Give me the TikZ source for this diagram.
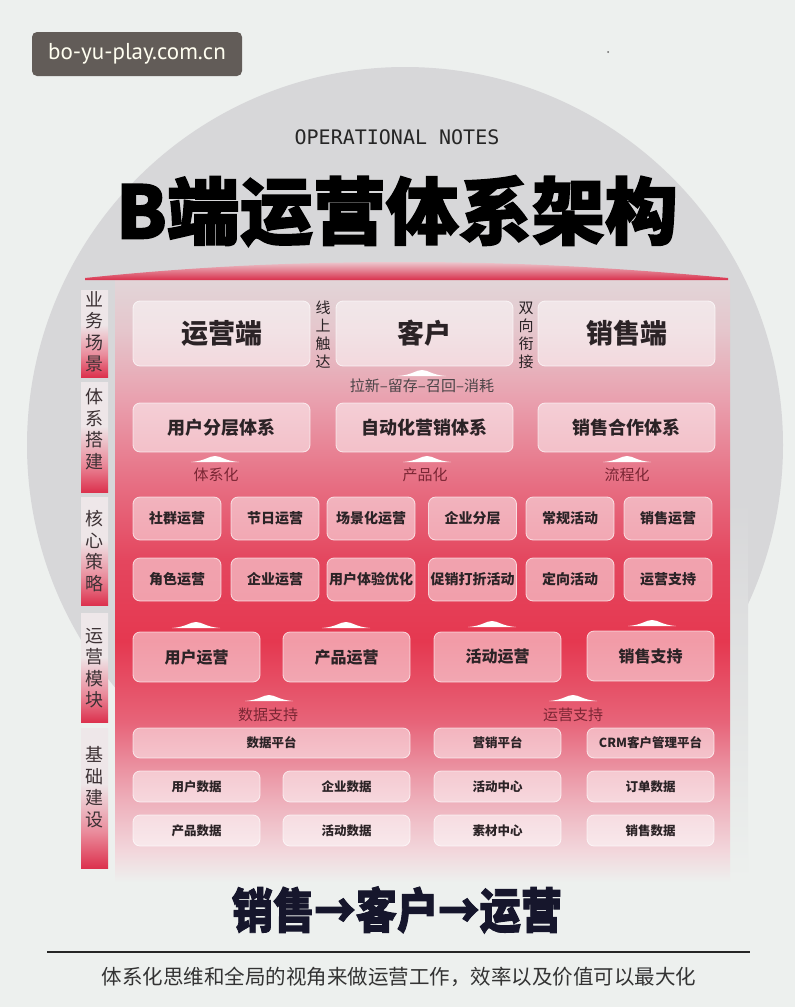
\documentclass[tikz,border=0pt]{standalone}
\usepackage{fontspec}
\setmainfont{Noto Sans CJK SC}
\newfontfamily\monofont{DejaVu Sans Mono}
\newfontfamily\urlfont{PT Sans}
\newfontfamily\heavyfont{Noto Sans CJK SC}[FakeBold=2]

\definecolor{bg}{HTML}{EDF0EE}
\definecolor{circ}{HTML}{D7D7D9}
\definecolor{wmark}{HTML}{625C58}
\definecolor{cardtext}{HTML}{2B2326}
\definecolor{lbl}{HTML}{7A2634}
\definecolor{tabtext}{HTML}{3C3134}
\definecolor{navy}{HTML}{16162C}

% panel: 25bp = bottom (y=880), 75bp = top (y=280)
\pgfdeclareverticalshading{panelshade}{100bp}{%
  color(0bp)=(bg); color(25bp)=(bg);
  color(27.5bp)=(rgb,255:red,242;green,215;blue,220);
  color(31.5bp)=(rgb,255:red,238;green,178;blue,189);
  color(35bp)=(rgb,255:red,234;green,140;blue,156);
  color(38.3bp)=(rgb,255:red,231;green,100;blue,121);
  color(45bp)=(rgb,255:red,229;green,56;blue,80);
  color(51.7bp)=(rgb,255:red,228;green,70;blue,94);
  color(58.3bp)=(rgb,255:red,231;green,112;blue,132);
  color(65bp)=(rgb,255:red,233;green,160;blue,174);
  color(70.8bp)=(rgb,255:red,229;green,198;blue,204);
  color(75bp)=(rgb,255:red,226;green,213;blue,216);
  color(100bp)=(rgb,255:red,226;green,213;blue,216)}
\pgfdeclareverticalshading{tabshade}{100bp}{%
  color(0bp)=(rgb,255:red,220;green,50;blue,78);
  color(25bp)=(rgb,255:red,220;green,50;blue,78);
  color(38bp)=(rgb,255:red,234;green,140;blue,156);
  color(55bp)=(rgb,255:red,238;green,230;blue,232);
  color(100bp)=(rgb,255:red,238;green,232;blue,234)}

\newcommand{\uparc}[2]{%
  \fill[white] (#1,#2) ++(-24,0) .. controls +(14,-1) and +(-6,0) .. ++(24,-6)
    .. controls +(6,0) and +(-14,-1) .. ++(24,6) -- cycle;}

\begin{document}
\begin{tikzpicture}[x=1pt,y=-1pt,
    card/.style={rounded corners=7pt, fill=white, fill opacity=0.5, draw=white,
      draw opacity=0.7, line width=0.8pt, text opacity=1, text=cardtext, inner sep=0pt},
    tab/.style={shading=tabshade},
    tabword/.style={font=\fontsize{18}{21.5}\selectfont, text=tabtext, align=center, inner sep=0pt},
    side/.style={font=\fontsize{15}{18}\selectfont, text=cardtext, align=center, inner sep=0pt},
    flow/.style={font=\fontsize{15}{15}\selectfont, text=lbl, inner sep=0pt}]

\useasboundingbox (0,0) rectangle (795,1007);
\fill[bg] (0,0) rectangle (795,1007);
\fill[circ] (405,445) circle (378);
\shade[top color=circ, bottom color=bg] (728,500) rectangle (748,880);

% watermark
\node[fill=wmark, rounded corners=5pt, minimum width=210, minimum height=44, inner sep=0pt,
  text=white!94!yellow, font=\urlfont\fontsize{23}{23}\selectfont] (site) at (137,54) {bo-yu-play.com.cn};
\fill[black!60] (608,52) circle (1);

% heading
\node[font=\monofont\fontsize{20}{20}\selectfont, text=black!85] (notes) at (397,137) {OPERATIONAL NOTES};
\node[font=\heavyfont\bfseries\fontsize{73}{73}\selectfont] (title) at (397,211) {B端运营体系架构};

% panel and roof
\shade[shading=panelshade] (115,280) rectangle (730,882);
\shade[top color={rgb,255:red,236;green,198;blue,205}, bottom color={rgb,255:red,217;green,48;blue,76}]
  (85,280) -- (728,280) -- (728,278) .. controls (600,266) and (500,262) .. (405,262)
  .. controls (300,262) and (200,266) .. (85,278) -- cycle;

% side tabs
\shade[tab] (81,290) rectangle (108,377);
\shade[tab] (81,382) rectangle (108,492);
\shade[tab] (81,497) rectangle (108,605);
\shade[tab] (81,613) rectangle (108,722);
\shade[tab] (81,728) rectangle (108,868);
\node[tabword] (scene) at (94.5,332) {业\\务\\场\\景};
\node[tabword] (build) at (94.5,429) {体\\系\\搭\\建};
\node[tabword] (core) at (94.5,551) {核\\心\\策\\略};
\node[tabword] (module) at (94.5,668) {运\\营\\模\\块};
\node[tabword] (base) at (94.5,787) {基\\础\\建\\设};

% row 1
\node[card, minimum width=177, minimum height=65, font=\bfseries\fontsize{27}{27}\selectfont] (opend) at (221.5,333.5) {运营端};
\node[card, minimum width=177, minimum height=65, font=\bfseries\fontsize{27}{27}\selectfont] (client) at (424.5,333.5) {客户};
\node[card, minimum width=177, minimum height=65, font=\bfseries\fontsize{27}{27}\selectfont] (salesend) at (626.5,333.5) {销售端};
\node[side] (online) at (323,335) {线\\上\\触\\达};
\node[side] (twoway) at (526,335) {双\\向\\衔\\接};
\uparc{422}{376}
\node[font=\fontsize{15}{15}\selectfont, text=cardtext!85] (cycle) at (422,386) {拉新–留存–召回–消耗};

% row 2
\node[card, minimum width=177, minimum height=49, font=\bfseries\fontsize{18}{18}\selectfont] (layer) at (221.5,427.5) {用户分层体系};
\node[card, minimum width=177, minimum height=49, font=\bfseries\fontsize{18}{18}\selectfont] (auto) at (424.5,427.5) {自动化营销体系};
\node[card, minimum width=177, minimum height=49, font=\bfseries\fontsize{18}{18}\selectfont] (coop) at (626.5,427.5) {销售合作体系};
\uparc{215}{462}
\uparc{427}{462}
\uparc{627}{462}
\node[flow] (sys) at (216,475) {体系化};
\node[flow] (prod) at (425,475) {产品化};
\node[flow] (proc) at (627,475) {流程化};

% rows 3 and 4
\node[card, minimum width=88, minimum height=43, font=\bfseries\fontsize{14}{14}\selectfont] (community) at (177,518.5) {社群运营};
\node[card, minimum width=88, minimum height=43, font=\bfseries\fontsize{14}{14}\selectfont] (festival) at (275,518.5) {节日运营};
\node[card, minimum width=88, minimum height=43, font=\bfseries\fontsize{14}{14}\selectfont] (scenario) at (371,518.5) {场景化运营};
\node[card, minimum width=88, minimum height=43, font=\bfseries\fontsize{14}{14}\selectfont] (tiers) at (472.5,518.5) {企业分层};
\node[card, minimum width=88, minimum height=43, font=\bfseries\fontsize{14}{14}\selectfont] (regular) at (570,518.5) {常规活动};
\node[card, minimum width=88, minimum height=43, font=\bfseries\fontsize{14}{14}\selectfont] (salesop) at (668,518.5) {销售运营};
\node[card, minimum width=88, minimum height=43, font=\bfseries\fontsize{14}{14}\selectfont] (role) at (177,579.5) {角色运营};
\node[card, minimum width=88, minimum height=43, font=\bfseries\fontsize{14}{14}\selectfont] (firm) at (275,579.5) {企业运营};
\node[card, minimum width=88, minimum height=43, font=\bfseries\fontsize{14}{14}\selectfont] (ux) at (371,579.5) {用户体验优化};
\node[card, minimum width=88, minimum height=43, font=\bfseries\fontsize{14}{14}\selectfont] (promo) at (472.5,579.5) {促销打折活动};
\node[card, minimum width=88, minimum height=43, font=\bfseries\fontsize{14}{14}\selectfont] (target) at (570,579.5) {定向活动};
\node[card, minimum width=88, minimum height=43, font=\bfseries\fontsize{14}{14}\selectfont] (opsup) at (668,579.5) {运营支持};

% row 5
\uparc{196}{628}
\uparc{346}{628}
\uparc{492}{627}
\uparc{652}{626}
\node[card, minimum width=127, minimum height=50, font=\bfseries\fontsize{16}{16}\selectfont] (userop) at (196.5,657) {用户运营};
\node[card, minimum width=127, minimum height=50, font=\bfseries\fontsize{16}{16}\selectfont] (prodop) at (346.5,657) {产品运营};
\node[card, minimum width=127, minimum height=50, font=\bfseries\fontsize{16}{16}\selectfont] (eventop) at (497.5,657) {活动运营};
\node[card, minimum width=127, minimum height=50, font=\bfseries\fontsize{16}{16}\selectfont] (salessup) at (650.5,656) {销售支持};
\uparc{269}{701}
\uparc{573}{701}
\node[flow] (datasup) at (268,715) {数据支持};
\node[flow] (opsupport) at (573,715) {运营支持};

% rows 6 to 8
\node[card, minimum width=277, minimum height=30, font=\bfseries\fontsize{12.5}{12.5}\selectfont] (dataplat) at (271.5,743) {数据平台};
\node[card, minimum width=127, minimum height=30, font=\bfseries\fontsize{12.5}{12.5}\selectfont] (mktplat) at (497.5,743) {营销平台};
\node[card, minimum width=127, minimum height=30, font=\bfseries\fontsize{12.5}{12.5}\selectfont] (crm) at (650.5,743) {CRM客户管理平台};
\node[card, minimum width=127, minimum height=31, font=\bfseries\fontsize{12.5}{12.5}\selectfont] (userdata) at (196.5,786.5) {用户数据};
\node[card, minimum width=127, minimum height=31, font=\bfseries\fontsize{12.5}{12.5}\selectfont] (firmdata) at (346.5,786.5) {企业数据};
\node[card, minimum width=127, minimum height=31, font=\bfseries\fontsize{12.5}{12.5}\selectfont] (center) at (497.5,786.5) {活动中心};
\node[card, minimum width=127, minimum height=31, font=\bfseries\fontsize{12.5}{12.5}\selectfont] (orders) at (650.5,786.5) {订单数据};
\node[card, minimum width=127, minimum height=31, font=\bfseries\fontsize{12.5}{12.5}\selectfont] (proddata) at (196.5,830.5) {产品数据};
\node[card, minimum width=127, minimum height=31, font=\bfseries\fontsize{12.5}{12.5}\selectfont] (eventdata) at (346.5,830.5) {活动数据};
\node[card, minimum width=127, minimum height=31, font=\bfseries\fontsize{12.5}{12.5}\selectfont] (assets) at (497.5,830.5) {素材中心};
\node[card, minimum width=127, minimum height=31, font=\bfseries\fontsize{12.5}{12.5}\selectfont] (salesdata) at (650.5,830.5) {销售数据};

% footer
\node[font=\heavyfont\bfseries\fontsize{48}{48}\selectfont, text=navy, xscale=0.86] (chain) at (397,910) {销售→客户→运营};
\coordinate (ruleL) at (47,952);
\coordinate (ruleR) at (750,952);
\draw[line width=1.5pt, black!85] (ruleL) -- (ruleR);
\node[font=\fontsize{20.5}{20.5}\selectfont, text=black!80] (motto) at (399,977) {体系化思维和全局的视角来做运营工作，效率以及价值可以最大化};
\end{tikzpicture}
\end{document}
